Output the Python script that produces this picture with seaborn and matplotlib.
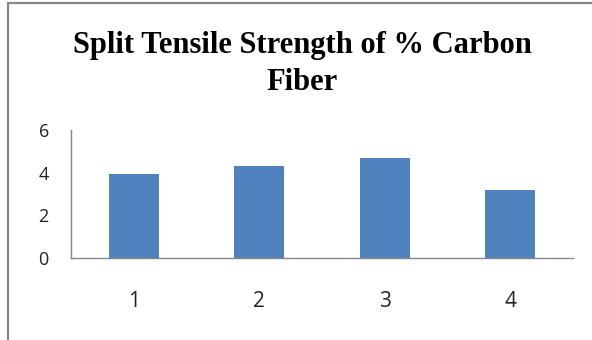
import matplotlib
matplotlib.use("Agg")
import matplotlib.pyplot as plt
from matplotlib.lines import Line2D
import seaborn as sns
import pandas as pd

# Split tensile strength for each carbon fibre mix
mixes = ["1", "2", "3", "4"]
strength = [3.92, 4.33, 4.70, 3.20]
y_ticks = [0, 2, 4, 6]
title_lines = ["Split Tensile Strength of % Carbon", "Fiber"]

df = pd.DataFrame({"mix": mixes, "strength": strength})

sns.set_theme(style="white")
plt.rcParams["font.family"] = ["Open Sans", "DejaVu Sans"]

W, H = 592, 340
fig = plt.figure(figsize=(W / 100, H / 100), dpi=100)
fig.patch.set_facecolor("white")

ax = fig.add_axes([71 / W, 1 - 258 / H, (573 - 71) / W, (258 - 130) / H])
sns.barplot(data=df, x="mix", y="strength", color="#4F81BD", saturation=1,
            width=0.4, ax=ax, linewidth=0)

ax.set_ylim(0, 6)
ax.set_xlim(-0.5, 3.5)
ax.set_yticks(y_ticks)
ax.set_yticklabels([str(t) for t in y_ticks], fontsize=13, color="#222222")
ax.tick_params(axis="y", length=0, pad=16)
ax.tick_params(axis="x", length=0, pad=24, labelsize=15, labelcolor="#222222")
ax.set_xlabel("")
ax.set_ylabel("")

for side in ("top", "right"):
    ax.spines[side].set_visible(False)
for side in ("left", "bottom"):
    ax.spines[side].set_color("#868686")
    ax.spines[side].set_linewidth(1.0)

# Two-line bold serif title, one baseline per line
for line, base_y in zip(title_lines, (53, 90)):
    fig.text(302 / W, 1 - base_y / H, line, ha="center", va="baseline",
             fontsize=22, fontweight="bold",
             family=["Liberation Serif", "DejaVu Serif"], color="black")

# Outer chart-area border (left and top edges)
fig.add_artist(Line2D([8 / W, 8 / W], [0, 1 - 3 / H], color="#888888", lw=1.6,
                      transform=fig.transFigure))
fig.add_artist(Line2D([8 / W, 1], [1 - 3 / H, 1 - 3 / H], color="#888888", lw=1.6,
                      transform=fig.transFigure))

fig.savefig("out.png", dpi=100, facecolor="white")
